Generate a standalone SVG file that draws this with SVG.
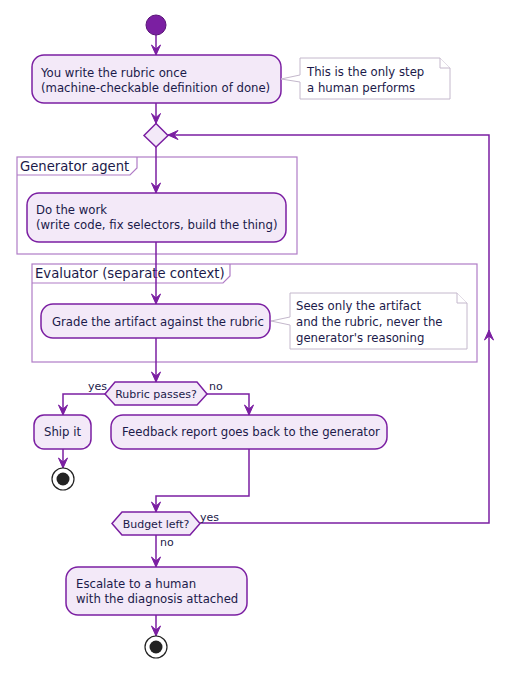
<svg xmlns="http://www.w3.org/2000/svg" width="523" height="676" viewBox="0 0 523 676">
<style>
.box{fill:#F3E9F8;stroke:#7B1FA2;stroke-width:1.5}
.dec{fill:#F3E9F8;stroke:#7B1FA2;stroke-width:1.5}
.part{fill:none;stroke:#B07CC6;stroke-width:1.2}
.note{fill:#FFFFFF;stroke:#C4B8CC;stroke-width:1}
.t{font-family:"DejaVu Sans",Verdana,sans-serif;font-size:11.7px;fill:#1B1A4A}
.pt{font-family:"DejaVu Sans",Verdana,sans-serif;font-size:13.2px;fill:#1B1A4A}
.lbl{font-family:"DejaVu Sans",Verdana,sans-serif;font-size:11px;fill:#1B1A4A}
.c{fill:none;stroke:#7B1FA2;stroke-width:1.5;marker-end:url(#ah)}
</style>
<defs>
<marker id="ah" markerUnits="userSpaceOnUse" markerWidth="12" markerHeight="12" viewBox="-1 -6 12 12" refX="10" refY="0" orient="auto">
<path d="M0,-4.5 L10,0 L0,4.5 L4,0 z" fill="#7B1FA2" stroke="#7B1FA2" stroke-width="1"/>
</marker>
</defs>

<g id="part-generator">
<rect class="part" x="17" y="157" width="280" height="97"/>
<path class="part" d="M17,175 L130,175 L137,168 L137,157"/>
<text class="pt" x="20" y="171">Generator agent</text>
</g>
<g id="part-evaluator">
<rect class="part" x="32" y="264" width="445" height="98"/>
<path class="part" d="M32,283 L223,283 L230,276 L230,264"/>
<text class="pt" x="35" y="278">Evaluator (separate context)</text>
</g>

<g id="connectors">
<path class="c" d="M156,35 L156,55"/>
<path class="c" d="M156,103 L156,123.5"/>
<path class="c" d="M156,147 L156,193"/>
<path class="c" d="M156,242 L156,304"/>
<path class="c" d="M156,338 L156,382"/>
<path class="c" d="M105,394 L63,394 L63,415"/>
<path class="c" d="M207,394 L249,394 L249,415"/>
<path class="c" d="M63,449 L63,468"/>
<path class="c" d="M249,449 L249,496 L156,496 L156,512"/>
<path class="c" d="M200,523 L489,523 L489,330"/>
<path class="c" d="M489,332 L489,135 L168,135"/>
<path class="c" d="M156,535 L156,567"/>
<path class="c" d="M156,615 L156,636"/>
<text class="lbl" x="88" y="390">yes</text>
<text class="lbl" x="209" y="390">no</text>
<text class="lbl" x="200" y="521">yes</text>
<text class="lbl" x="160" y="546">no</text>
</g>

<g id="start">
<circle cx="156" cy="25" r="10" fill="#7B1FA2" stroke="#5A1478" stroke-width="1"/>
</g>

<g id="write-rubric">
<rect class="box" x="32" y="55" width="249" height="48" rx="12"/>
<text class="t" x="41" y="77">You write the rubric once</text>
<text class="t" x="41" y="92">(machine-checkable definition of done)</text>
</g>

<g id="note-human">
<path class="note" d="M300,58 L440,58 L450,68 L450,99 L300,99 L300,82 L281,79 L300,75 Z"/>
<path class="note" d="M440,58 L440,68 L450,68"/>
<text class="t" x="307" y="76">This is the only step</text>
<text class="t" x="307" y="92">a human performs</text>
</g>

<g id="merge">
<polygon class="dec" points="156,123.5 168,135.5 156,147 144,135.5"/>
</g>

<g id="do-work">
<rect class="box" x="27" y="193" width="259" height="49" rx="12"/>
<text class="t" x="36" y="214">Do the work</text>
<text class="t" x="36" y="229">(write code, fix selectors, build the thing)</text>
</g>

<g id="grade">
<rect class="box" x="41" y="304" width="229" height="34" rx="12"/>
<text class="t" x="52" y="326">Grade the artifact against the rubric</text>
</g>

<g id="note-evaluator">
<path class="note" d="M290,293 L457,293 L467,303 L467,349 L290,349 L290,325 L271,321 L290,317 Z"/>
<path class="note" d="M457,293 L457,303 L467,303"/>
<text class="t" x="296" y="310">Sees only the artifact</text>
<text class="t" x="296" y="326">and the rubric, never the</text>
<text class="t" x="296" y="342">generator's reasoning</text>
</g>

<g id="rubric-passes">
<polygon class="dec" points="105,394 115,382 197,382 207,394 197,405 115,405"/>
<text class="lbl" x="156" y="398" text-anchor="middle">Rubric passes?</text>
</g>

<g id="ship-it">
<rect class="box" x="34" y="415" width="57" height="34" rx="10"/>
<text class="t" x="62.5" y="436" text-anchor="middle">Ship it</text>
</g>

<g id="end-ship">
<circle cx="63" cy="479" r="11" fill="#FFFFFF" stroke="#222222" stroke-width="1.2"/>
<circle cx="63" cy="479" r="6.5" fill="#222222"/>
</g>

<g id="feedback">
<rect class="box" x="111" y="415" width="276" height="34" rx="12"/>
<text class="t" x="122" y="436">Feedback report goes back to the generator</text>
</g>

<g id="budget-left">
<polygon class="dec" points="112,523.5 122,512 190,512 200,523.5 190,535 122,535"/>
<text class="lbl" x="156" y="528" text-anchor="middle">Budget left?</text>
</g>

<g id="escalate">
<rect class="box" x="66" y="567" width="181" height="48" rx="12"/>
<text class="t" x="76" y="588">Escalate to a human</text>
<text class="t" x="76" y="603">with the diagnosis attached</text>
</g>

<g id="end-escalate">
<circle cx="156" cy="647" r="11" fill="#FFFFFF" stroke="#222222" stroke-width="1.2"/>
<circle cx="156" cy="647" r="6.5" fill="#222222"/>
</g>
</svg>
